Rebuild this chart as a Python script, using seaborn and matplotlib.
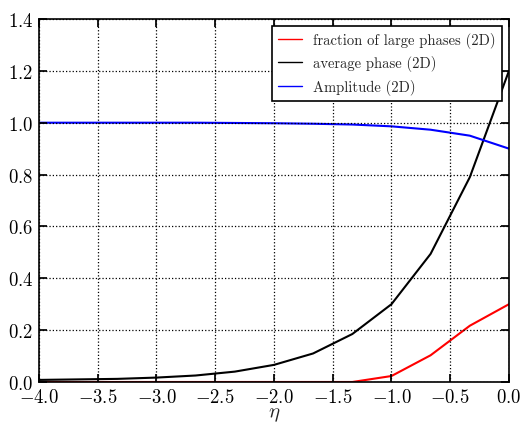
import numpy as np
import pandas as pd
import seaborn as sns
import matplotlib
matplotlib.use("Agg")
import matplotlib.pyplot as plt

eta = [-4.0, -3.667, -3.333, -3.0, -2.667, -2.333, -2.0, -1.667, -1.333, -1.0, -0.667, -0.333, 0.0]
frac_large = [0.0, 0.0, 0.0, 0.0, 0.0, 0.0, 0.0, 0.0, 0.0, 0.023, 0.103, 0.217, 0.30]
avg_phase = [0.008, 0.01, 0.012, 0.017, 0.025, 0.04, 0.066, 0.11, 0.185, 0.30, 0.494, 0.79, 1.20]
amplitude = [1.0, 1.0, 1.0, 1.0, 1.0, 0.999, 0.998, 0.996, 0.993, 0.986, 0.973, 0.95, 0.90]

labels = ["fraction of large phases (2D)", "average phase (2D)", "Amplitude (2D)"]
colors = ["#ff0000", "#000000", "#0000ff"]

sns.set_theme(style="white")
plt.rcParams.update({
    "font.family": ["cmr10", "DejaVu Serif"],
    "mathtext.fontset": "cm",
    "axes.formatter.use_mathtext": True,
    "axes.edgecolor": "black",
    "axes.linewidth": 1.2,
    "xtick.direction": "in",
    "ytick.direction": "in",
    "xtick.top": True,
    "ytick.right": True,
    "xtick.bottom": True,
    "ytick.left": True,
    "xtick.major.size": 6,
    "ytick.major.size": 6,
    "xtick.color": "black",
    "ytick.color": "black",
})

fig = plt.figure(figsize=(5.22, 4.31), dpi=100)
ax = fig.add_axes([0.0747, 0.1114, 0.9003, 0.8422])

df = pd.DataFrame({"eta": eta, labels[0]: frac_large, labels[1]: avg_phase, labels[2]: amplitude})
for lab, col in zip(labels, colors):
    sns.lineplot(data=df, x="eta", y=lab, ax=ax, color=col, linewidth=1.5, label=lab)

ax.set_xlim(-4.0, 0.0)
ax.set_ylim(0.0, 1.4)
xt = np.arange(-4.0, 0.01, 0.5)
yt = np.arange(0.0, 1.41, 0.2)
ax.set_xticks(xt)
ax.set_yticks(yt)
ax.set_xticklabels([f"${v:.1f}$" for v in xt])
ax.set_yticklabels([f"${v:.1f}$" for v in yt])
ax.tick_params(labelsize=13.5, pad=4)
ax.grid(True, linestyle=":", color="black", linewidth=0.9)
ax.set_axisbelow(False)
ax.set_xlabel(r"$\eta$", fontsize=15, labelpad=0)
ax.set_ylabel("")

leg = ax.legend(loc="upper right", fontsize=10.5, frameon=True, fancybox=False,
                handlelength=1.6, borderaxespad=0.5)
leg.get_frame().set_edgecolor("black")
leg.get_frame().set_linewidth(1.2)
leg.get_frame().set_alpha(1.0)
for l in leg.get_lines():
    l.set_linewidth(1.0)

fig.savefig("out.png", dpi=100)
